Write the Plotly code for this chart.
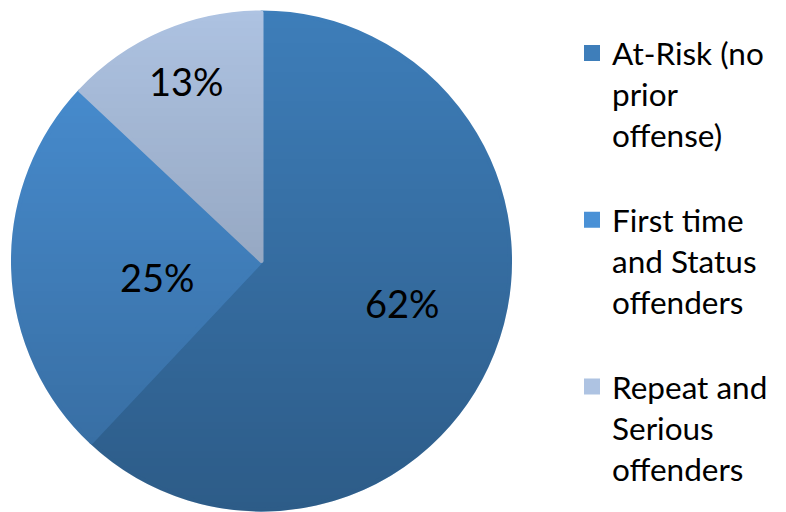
import base64
import struct
import zlib

import numpy as np
import plotly.graph_objects as go

# ---- data ----
labels = [
    "At-Risk (no<br>prior<br>offense)<br> ",
    "First time<br>and Status<br>offenders<br> ",
    "Repeat and<br>Serious<br>offenders",
]
values = [62, 25, 13]
colors = ["#3E7EBA", "#4A91D6", "#AEC3E2"]

# ---- geometry / style ----
W, H = 786, 512
PIE_X0, PIE_X1 = 11, 512      # pie box, px from left
PIE_Y0, PIE_Y1 = 10, 512      # pie box, px from top
EDGE = 4                      # slice outline width (same colour as fill)
FONT = "Lato"
LABEL_SIZE = 38
LEGEND_SIZE = 31.5
# label placement along each slice's bisector: radius fraction and pixel nudges
LABEL_R = [0.583, 0.415, 0.775]
LABEL_DX = [5, 0, 2]
LABEL_DY = [-12, 13, -2]


def png_data_uri(rgba):
    """Encode an (h, w, 4) uint8 array as a base64 PNG data URI."""
    h, w, _ = rgba.shape
    raw = b"".join(b"\x00" + rgba[r].tobytes() for r in range(h))

    def chunk(tag, data):
        c = struct.pack(">I", len(data)) + tag + data
        return c + struct.pack(">I", zlib.crc32(tag + data) & 0xFFFFFFFF)

    png = (b"\x89PNG\r\n\x1a\n"
           + chunk(b"IHDR", struct.pack(">IIBBBBB", w, h, 8, 6, 0, 0, 0))
           + chunk(b"IDAT", zlib.compress(raw, 9))
           + chunk(b"IEND", b""))
    return "data:image/png;base64," + base64.b64encode(png).decode()


# vertical shading over the pie disc: clear at the top, darker toward the bottom
bw, bh = PIE_X1 - PIE_X0, PIE_Y1 - PIE_Y0
yy, xx = np.mgrid[0:bh, 0:bw] + 0.5
cx, cy = bw / 2, bh / 2
rad = min(bw, bh) / 2
dist = np.hypot(xx - cx, yy - cy)
mask = np.clip(rad - dist + 0.5, 0, 1)
alpha = 0.27 * (yy / bh) * mask
shade = np.zeros((bh, bw, 4), dtype=np.uint8)
shade[..., 3] = np.round(alpha * 255).astype(np.uint8)

fig = go.Figure(
    go.Pie(
        labels=labels,
        values=values,
        sort=False,
        direction="clockwise",
        rotation=0,
        marker=dict(colors=colors, line=dict(color=colors, width=EDGE)),
        textinfo="none",
        domain=dict(
            x=[(PIE_X0 + EDGE / 2) / W, (PIE_X1 - EDGE / 2) / W],
            y=[1 - (PIE_Y1 - EDGE / 2) / H, 1 - (PIE_Y0 + EDGE / 2) / H],
        ),
        hoverinfo="label+percent",
    )
)

fig.add_layout_image(
    source=png_data_uri(shade),
    xref="paper", yref="paper",
    x=PIE_X0 / W, y=1 - PIE_Y0 / H,
    sizex=bw / W, sizey=bh / H,
    xanchor="left", yanchor="top",
    sizing="stretch", layer="above",
)

# percentage labels on each slice's bisector (clockwise from 12 o'clock)
total = float(sum(values))
centre_x = (PIE_X0 + PIE_X1) / 2
centre_y = (PIE_Y0 + PIE_Y1) / 2
start = 0.0
for v, rf, dx, dy in zip(values, LABEL_R, LABEL_DX, LABEL_DY):
    mid = np.deg2rad(360.0 * (start + v / 2) / total)
    start += v
    r = rf * rad
    px = centre_x + r * np.sin(mid) + dx
    py = centre_y - r * np.cos(mid) + dy
    fig.add_annotation(
        x=px / W, y=1 - py / H, xref="paper", yref="paper",
        text=f"{round(100 * v / total)}%",
        showarrow=False, xanchor="center", yanchor="middle",
        font=dict(family=FONT, size=LABEL_SIZE, color="black"),
    )

fig.update_layout(
    width=W, height=H,
    margin=dict(l=0, r=0, t=0, b=0),
    paper_bgcolor="white",
    plot_bgcolor="white",
    font=dict(family=FONT, size=LEGEND_SIZE, color="black"),
    showlegend=True,
    legend=dict(
        x=572 / W, y=1 - 26 / H,
        xanchor="left", yanchor="top",
        valign="top",
        font=dict(family=FONT, size=LEGEND_SIZE, color="black"),
        bgcolor="rgba(0,0,0,0)",
        itemclick=False,
    ),
)

fig.write_html("out.html")
